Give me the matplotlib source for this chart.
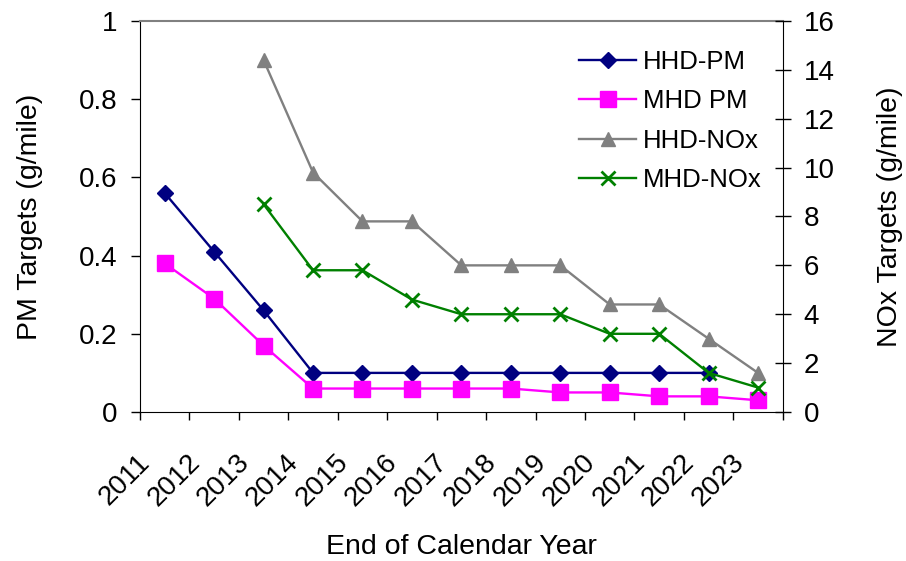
import numpy as np
import matplotlib
matplotlib.use("Agg")
import matplotlib.pyplot as plt
from matplotlib.transforms import ScaledTranslation

plt.rcParams["font.family"] = ["Liberation Sans", "DejaVu Sans"]

# datos
anios = ["2011", "2012", "2013", "2014", "2015", "2016", "2017",
         "2018", "2019", "2020", "2021", "2022", "2023"]
hhd_pm = [0.56, 0.41, 0.26, 0.10, 0.10, 0.10, 0.10, 0.10, 0.10, 0.10, 0.10, 0.10, np.nan]
mhd_pm = [0.38, 0.29, 0.17, 0.06, 0.06, 0.06, 0.06, 0.06, 0.05, 0.05, 0.04, 0.04, 0.03]
hhd_nox = [np.nan, np.nan, 14.4, 9.8, 7.8, 7.8, 6.0, 6.0, 6.0, 4.4, 4.4, 3.0, 1.6]
mhd_nox = [np.nan, np.nan, 8.5, 5.8, 5.8, 4.6, 4.0, 4.0, 4.0, 3.2, 3.2, 1.6, 1.0]

x = np.arange(len(anios))

fig = plt.figure(figsize=(9.06, 5.61), dpi=100)
ax = fig.add_axes([0.1545, 0.2656, 0.864 - 0.1545, 0.9626 - 0.2656])
ax2 = ax.twinx()

l1, = ax.plot(x, hhd_pm, color="#000080", marker="D", ms=8.5, lw=1.7, label="HHD-PM")
l2, = ax.plot(x, mhd_pm, color="#FF00FF", marker="s", ms=11.5, lw=1.7, label="MHD PM")
l3, = ax2.plot(x, hhd_nox, color="#808080", marker="^", ms=9.5, lw=1.7, label="HHD-NOx")
l4, = ax2.plot(x, mhd_nox, color="#008000", marker="x", ms=10.5, mew=2, lw=1.7, label="MHD-NOx")

ax.set_xlim(-0.5, len(anios) - 0.5)
ax.set_ylim(0, 1)
ax2.set_ylim(0, 16)
ax.set_yticks(np.arange(0, 1.01, 0.2))
ax.set_yticklabels(["0", "0.2", "0.4", "0.6", "0.8", "1"])
ax2.set_yticks(np.arange(0, 17, 2))

# ticks en los limites de categoria, etiquetas al centro
ax.set_xticks(np.arange(-0.5, len(anios), 1.0))
ax.set_xticklabels([])
ax.set_xticks(x, minor=True)
ax.set_xticklabels(anios, minor=True, rotation=45, ha="right", fontsize=20)
ax.tick_params(axis="x", which="major", direction="out", length=6, width=1)
ax.tick_params(axis="x", which="minor", length=0, pad=27)
for lab in ax.get_xticklabels(minor=True):
    lab.set_transform(lab.get_transform() + ScaledTranslation(-0.09, 0, fig.dpi_scale_trans))

ax.tick_params(axis="y", direction="out", length=6.3, width=1, labelsize=20, pad=10)
ax2.tick_params(axis="y", direction="inout", length=12, width=1, labelsize=20, pad=9)

for s in ["left", "bottom"]:
    ax.spines[s].set_color("black")
ax.spines["top"].set_color("#808080")
ax.spines["top"].set_linewidth(1.5)
ax.spines["right"].set_visible(False)
ax2.spines["top"].set_visible(False)
ax2.spines["left"].set_visible(False)
ax2.spines["bottom"].set_visible(False)
ax2.spines["right"].set_color("black")

ax.set_xlabel("End of Calendar Year", fontsize=20.5)
ax.set_ylabel("PM Targets (g/mile)", fontsize=20.5)
ax2.set_ylabel("NOx Targets (g/mile)", fontsize=20.5)
ax.xaxis.set_label_coords(0.5, -0.313)
ax.yaxis.set_label_coords(-0.151, 0.5)
ax2.yaxis.set_label_coords(1.146, 0.5)

ax2.legend(handles=[l1, l2, l3, l4], loc="upper right", bbox_to_anchor=(0.983, 0.952),
           frameon=False, fontsize=18.5, handlelength=2.2, handletextpad=0.27,
           labelspacing=0.6, borderaxespad=0)

fig.savefig("out.png", dpi=100)
